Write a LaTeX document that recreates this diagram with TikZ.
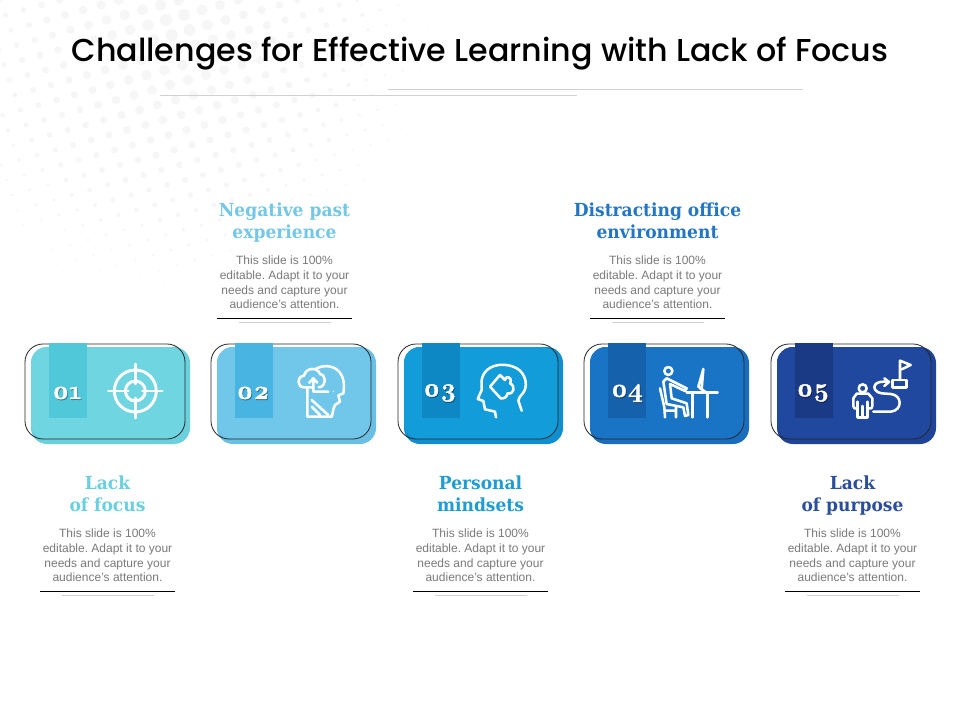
\documentclass[tikz,border=0pt]{standalone}
\usepackage{fontspec}
\setmainfont{Liberation Sans}
\newfontfamily\titlefont{Poppins}[UprightFont=* Medium]
\newfontfamily\headfont{DejaVu Serif}[FakeStretch=0.95]
\newfontfamily\numfont{Latin Modern Roman}[Numbers=OldStyle,FakeBold=1.6]
\definecolor{cA}{HTML}{6FD5E1}\definecolor{cAd}{HTML}{6AD0DE}\definecolor{tA}{HTML}{50C8DA}\definecolor{hA}{HTML}{6AD0E0}
\definecolor{cB}{HTML}{70C7EA}\definecolor{cBd}{HTML}{6AC0E4}\definecolor{tB}{HTML}{48B4E1}\definecolor{hB}{HTML}{74C7E6}
\definecolor{cC}{HTML}{129DDA}\definecolor{cCd}{HTML}{0F8FCF}\definecolor{tC}{HTML}{0E88C5}\definecolor{hC}{HTML}{1F9CD3}
\definecolor{cD}{HTML}{1A74C6}\definecolor{cDd}{HTML}{1A6CBC}\definecolor{tD}{HTML}{1561AB}\definecolor{hD}{HTML}{2476C2}
\definecolor{cE}{HTML}{20489F}\definecolor{cEd}{HTML}{1E4397}\definecolor{tE}{HTML}{1B3A85}\definecolor{hE}{HTML}{2A4E9C}
\definecolor{dotgray}{HTML}{F6F6F7}
\tikzset{
  x=0.75pt,y=-0.75pt,
  titletext/.style={font=\titlefont\fontsize{23.75pt}{28pt}\selectfont,text=black,inner sep=0},
  headtext/.style={font=\headfont\bfseries\fontsize{13.5pt}{16.6pt}\selectfont,anchor=base,inner sep=0},
  bodytext/.style={font=\frenchspacing\fontsize{9pt}{10.9pt}\selectfont,text=black!52,align=center,inner sep=0},
  numtext/.style={font=\numfont\bfseries\fontsize{19.5pt}{22pt}\selectfont,inner sep=0},
  outline/.style={draw=black!85,line width=0.6pt,rounded corners=13.5pt},
  cardfill/.style={rounded corners=12pt},
  icon/.style={draw=white,line width=1.9pt,line cap=round,line join=round},
  blackrule/.style={draw=black,line width=0.6pt},
  grayrule/.style={draw=black!18,line width=0.5pt},
}
\newcommand{\card}[5]{%
  \fill[#4,cardfill] (#1+6,347) rectangle (#1+165,444);
  \fill[#3,cardfill] (#1+6,347) rectangle (#1+160,439);
  \draw[outline] (#1,344) rectangle (#1+160,439);
  \fill[#5] (#1+24,343) rectangle (#1+62,418);
}
\newcommand{\blurb}[6]{% cx, first baseline, colour, line1, line2, name
  \node[headtext,text=#3] (h#6) at (#1,#2) {#4};
  \node[headtext,text=#3] (k#6) at (#1,#2+22) {#5};
  \node[bodytext] (b#6) at (#1,#2+66) {This slide is 100\%\\editable. Adapt it to your\\needs and capture your\\audience's attention.};
  \draw[blackrule] (#1-67.5,#2+101.5) -- (#1+67.5,#2+101.5);
  \draw[grayrule] (#1-46,#2+105.5) -- (#1+46,#2+105.5);
}
\begin{document}
\begin{tikzpicture}
\useasboundingbox (0,0) rectangle (960,720);
\fill[white] (0,0) rectangle (960,720);
% halftone
\foreach \i in {-6,...,34}{\foreach \j in {-12,...,22}{
  \pgfmathsetmacro{\px}{18*\i+5.5*\j}
  \pgfmathsetmacro{\py}{-5*\i+15*\j}
  \pgfmathsetmacro{\dd}{veclen(\px-170,\py-30)}
  \pgfmathsetmacro{\rr}{6.2*(1-\dd/285)}
  \pgfmathparse{(\rr>0.5)&&(\px>-8)&&(\py>-8)?1:0}
  \ifnum\pgfmathresult=1 \fill[dotgray] (\px,\py) circle[radius=\rr*0.75pt]; \fi
}}
\node[titletext] (title) at (480,53.5) {Challenges for Effective Learning with Lack of Focus};
\coordinate (r1a) at (160,95); \coordinate (r1b) at (577,95);
\coordinate (r2a) at (388,89); \coordinate (r2b) at (803,89);
\draw[grayrule] (r1a) -- (r1b); \draw[grayrule] (r2a) -- (r2b);
\card{25}{a}{cA}{cAd}{tA}
\card{211}{b}{cB}{cBd}{tB}
\card{398}{c}{cC}{cCd}{tC}
\card{584}{d}{cD}{cDd}{tD}
\card{771}{e}{cE}{cEd}{tE}
\foreach \n/\x/\t in {n1/67/01,n2/253/02,n3/440/03,n4/627/04,n5/813/05}{
  \node[numtext,text=black,opacity=.3] (\n s) at (\x+.8,393+1) {\t};
  \node[numtext,text=white] (\n) at (\x,393) {\t};
}
\blurb{107.5}{489.5}{hA}{Lack}{of focus}{a}
\blurb{284.5}{216.5}{hB}{Negative past}{experience}{b}
\blurb{480.5}{489.5}{hC}{Personal}{mindsets}{c}
\blurb{657.5}{216.5}{hD}{Distracting office}{environment}{d}
\blurb{852.5}{489.5}{hE}{Lack}{of purpose}{e}
% icon 1
\begin{scope}[shift={(135.3,391)}]
  \draw[icon,line width=2.2pt] (0,0) circle[radius=21*0.75pt];
  \draw[icon,line width=2.2pt] (0,0) circle[radius=10*0.75pt];
  \draw[icon] (-27,0) -- (-7,0) (7,0) -- (27,0) (0,-27) -- (0,-7) (0,7) -- (0,27);
\end{scope}
% icon 2
\begin{scope}[shift={(200,330)},scale=1/3]
  \draw[icon] (345,118) .. controls (365,105) and (395,105) .. (412,120) .. controls (430,135) and (435,160) .. (430,190) -- (415,196) -- (420,215) -- (405,225) -- (400,238) .. controls (398,250) and (397,255) .. (395,260) -- (322,260) -- (322,172);
  \draw[icon] (340,172) -- (312,172) .. controls (292,172) and (288,140) .. (312,137) .. controls (318,112) and (352,110) .. (360,132) .. controls (380,135) and (380,170) .. (356,172);
  \draw[icon] (328,158) -- (340,145) -- (352,158) (340,145) -- (340,185) -- (385,185);
  \fill[white] (400,185) circle[radius=1.5pt];
  \draw[icon] (335,210) -- (385,255) (335,230) -- (360,255);
\end{scope}
% icon 3
\begin{scope}[shift={(390,330)},scale=1/3]
  \draw[icon] (318,262) -- (315,245) -- (285,238) -- (280,213) -- (263,207) -- (275,180) -- (275,150) .. controls (285,95) and (360,95) .. (390,122) .. controls (410,142) and (412,170) .. (400,188) .. controls (390,200) and (385,205) .. (385,212) -- (395,242);
  \draw[icon] (300,170) -- (330,135) -- (345,150) .. controls (345,135) and (370,140) .. (360,160) .. controls (378,168) and (372,195) .. (352,190) .. controls (352,202) and (342,206) .. (332,205) -- cycle;
\end{scope}
% icon 4
\begin{scope}[shift={(575,330)},scale=1/3]
  \draw[icon] (280,123) circle[radius=9pt];
  \draw[icon] (265,155) -- (275,145) -- (335,175) -- (330,183) -- (285,162) -- (290,205) -- (335,220) -- (340,255) -- (330,258) -- (325,232) -- (275,222) -- cycle;
  \draw[icon] (255,175) -- (268,232) -- (270,262) (303,232) -- (303,262) (270,242) -- (303,242);
  \draw[icon] (335,188) -- (428,188) (352,188) -- (352,262) (398,188) -- (398,262);
  \draw[icon] (385,117) -- (370,170) -- (380,177) -- cycle (375,175) -- (395,188);
\end{scope}
% icon 5
\begin{scope}[shift={(760,330)},scale=1/3]
  \draw[icon] (308,175) circle[radius=9pt];
  \draw[icon] (293,215) -- (293,262) -- (323,262) -- (323,215) (308,228) -- (308,262);
  \draw[icon] (293,235) -- (283,235) -- (280,228) -- (280,205) -- (290,191) -- (325,191) -- (337,205) -- (337,228) -- (334,235) -- (323,235);
  \draw[icon] (340,245) -- (392,245) .. controls (428,242) and (428,195) .. (392,192) -- (365,190) .. controls (335,185) and (335,155) .. (370,155) -- (385,155);
  \draw[icon] (373,145) -- (387,156) -- (373,168);
  \draw[icon] (397,150) rectangle (440,172);
  \draw[icon] (420,150) -- (420,92) -- (452,105) -- (425,118);
\end{scope}
\end{tikzpicture}
\end{document}
